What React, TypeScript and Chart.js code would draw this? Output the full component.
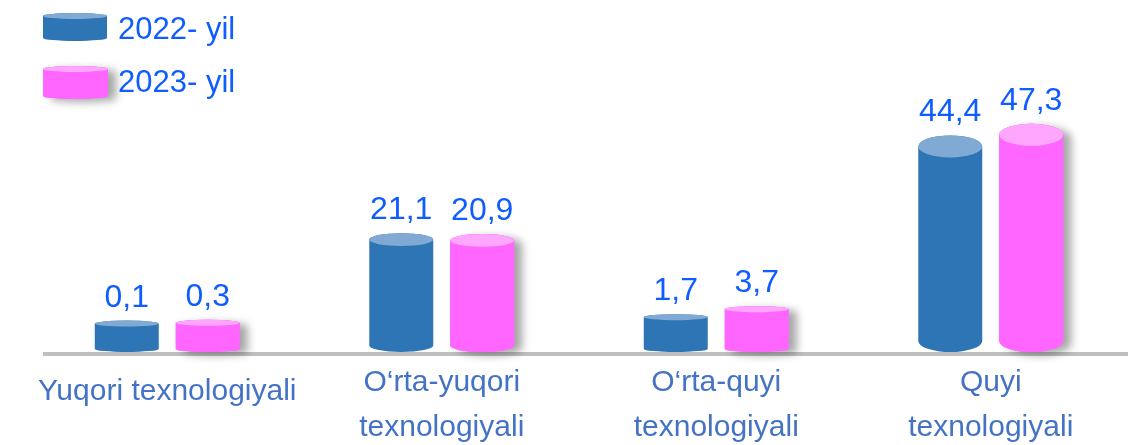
import React, { useEffect, useRef } from "react";
import { Chart, registerables } from "chart.js";

Chart.register(...registerables);

// ---- Data ----
const categories: (string | string[])[] = [
  "Yuqori texnologiyali",
  ["O‘rta-yuqori", "texnologiyali"],
  ["O‘rta-quyi", "texnologiyali"],
  ["Quyi", "texnologiyali"],
];
const seriesNames: string[] = ["2022- yil", "2023- yil"];
const values2022: number[] = [0.1, 21.1, 1.7, 44.4];
const values2023: number[] = [0.3, 20.9, 3.7, 47.3];

// ---- Styles ----
const bodyColors = ["#2E75B6", "#FF66FF"];
const topColors = ["#80AAD3", "#FFA6FF"];
const valueColor = "#0F5CFF";
const axisLabelColor = "#4472C4";
const FONT = "'Liberation Sans', Arial, sans-serif";

const fmt = (v: number) => v.toFixed(1).replace(".", ",");

function topRy(y: number) {
  return Math.max(3, Math.min(11, 3 + (308 - y) * 0.05));
}

function drawCylinder(
  ctx: CanvasRenderingContext2D,
  cx: number,
  top: number,
  bottom: number,
  w: number,
  ry: number,
  di: number,
  shadow: boolean
) {
  const L = cx - w / 2;
  const R = cx + w / 2;
  const shape = () => {
    ctx.beginPath();
    ctx.moveTo(L, top);
    ctx.lineTo(L, bottom - ry);
    ctx.ellipse(cx, bottom - ry, w / 2, ry, 0, Math.PI, 0, true);
    ctx.lineTo(R, top);
    ctx.ellipse(cx, top, w / 2, ry, 0, 0, Math.PI, true);
    ctx.closePath();
  };
  if (shadow) {
    ctx.save();
    ctx.shadowColor = "rgba(0,0,0,0.35)";
    ctx.shadowBlur = 9;
    ctx.shadowOffsetX = 8;
    ctx.shadowOffsetY = 3;
    ctx.fillStyle = bodyColors[di];
    shape();
    ctx.fill();
    ctx.restore();
  }
  ctx.save();
  ctx.fillStyle = bodyColors[di];
  shape();
  ctx.fill();
  ctx.beginPath();
  ctx.ellipse(cx, top, w / 2, ry, 0, 0, Math.PI * 2);
  ctx.fillStyle = topColors[di];
  ctx.fill();
  ctx.restore();
}

const cylinderPlugin = {
  id: "cylinders",
  beforeDatasetsDraw(chart: any) {
    const ctx = chart.ctx as CanvasRenderingContext2D;
    const { bottom, left, right } = chart.chartArea;
    ctx.save();
    ctx.fillStyle = "#BFBFBF";
    ctx.fillRect(left + 13, bottom, right - left - 13, 4);
    ctx.restore();
  },
  beforeDatasetDraw() {
    return false;
  },
  afterDatasetsDraw(chart: any) {
    const ctx = chart.ctx as CanvasRenderingContext2D;
    const labels: { x: number; y: number; text: string }[] = [];
    chart.data.datasets.forEach((ds: any, di: number) => {
      const meta = chart.getDatasetMeta(di);
      meta.data.forEach((el: any, i: number) => {
        const { x, y, base, width } = el.getProps(["x", "y", "base", "width"], true);
        const ry = topRy(y);
        drawCylinder(ctx, x, y, base, width, ry, di, di === 1);
        labels.push({ x, y: y - ry - 14, text: fmt(ds.data[i]) });
      });
    });
    ctx.save();
    ctx.font = `32px ${FONT}`;
    ctx.fillStyle = valueColor;
    ctx.textAlign = "center";
    ctx.textBaseline = "alphabetic";
    labels.forEach((l) => ctx.fillText(l.text, l.x, l.y));
    ctx.restore();

    // legend
    const legendItems = [
      { top: 16, bottom: 41, w: 64, cx: 75, textY: 39 },
      { top: 69, bottom: 99, w: 65, cx: 75.5, textY: 92 },
    ];
    chart.data.datasets.forEach((ds: any, di: number) => {
      const it = legendItems[di];
      drawCylinder(ctx, it.cx, it.top, it.bottom, it.w, 3, di, di === 1);
      ctx.save();
      ctx.font = `31px ${FONT}`;
      ctx.fillStyle = valueColor;
      ctx.textAlign = "left";
      ctx.textBaseline = "alphabetic";
      ctx.fillText(ds.label, 118, it.textY);
      ctx.restore();
    });
  },
};

export default function App() {
  const ref = useRef<HTMLCanvasElement | null>(null);
  useEffect(() => {
    if (!ref.current) return;
    const chart = new Chart(ref.current, {
      type: "bar",
      data: {
        labels: categories,
        datasets: [
          { label: seriesNames[0], data: values2022, base: -7, backgroundColor: bodyColors[0] },
          { label: seriesNames[1], data: values2023, base: -7, backgroundColor: bodyColors[1] },
        ] as any,
      },
      options: {
        responsive: false,
        animation: false,
        layout: { padding: { left: 30, right: 0, top: 60, bottom: 0 } },
        categoryPercentage: 0.59,
        barPercentage: 0.79,
        plugins: {
          legend: { display: false },
          tooltip: { enabled: false },
          title: { display: false },
        },
        scales: {
          x: {
            grid: { display: false, drawTicks: false },
            border: { display: false },
            ticks: {
              autoSkip: false,
              maxRotation: 0,
              minRotation: 0,
              padding: 8,
              color: axisLabelColor,
              font: (c: any) => ({
                family: FONT,
                size: 30,
                lineHeight: c.index === 0 ? 64 / 30 : 45 / 30,
              }),
            },
          },
          y: {
            display: false,
            min: -7,
            max: 66,
          },
        },
      } as any,
      plugins: [cylinderPlugin],
    });
    return () => chart.destroy();
  }, []);
  return (
    <div style={{ position: "absolute", left: 0, top: 0, width: 1128, height: 458, background: "#fff" }}>
      <canvas ref={ref} width={1128} height={458} />
    </div>
  );
}
